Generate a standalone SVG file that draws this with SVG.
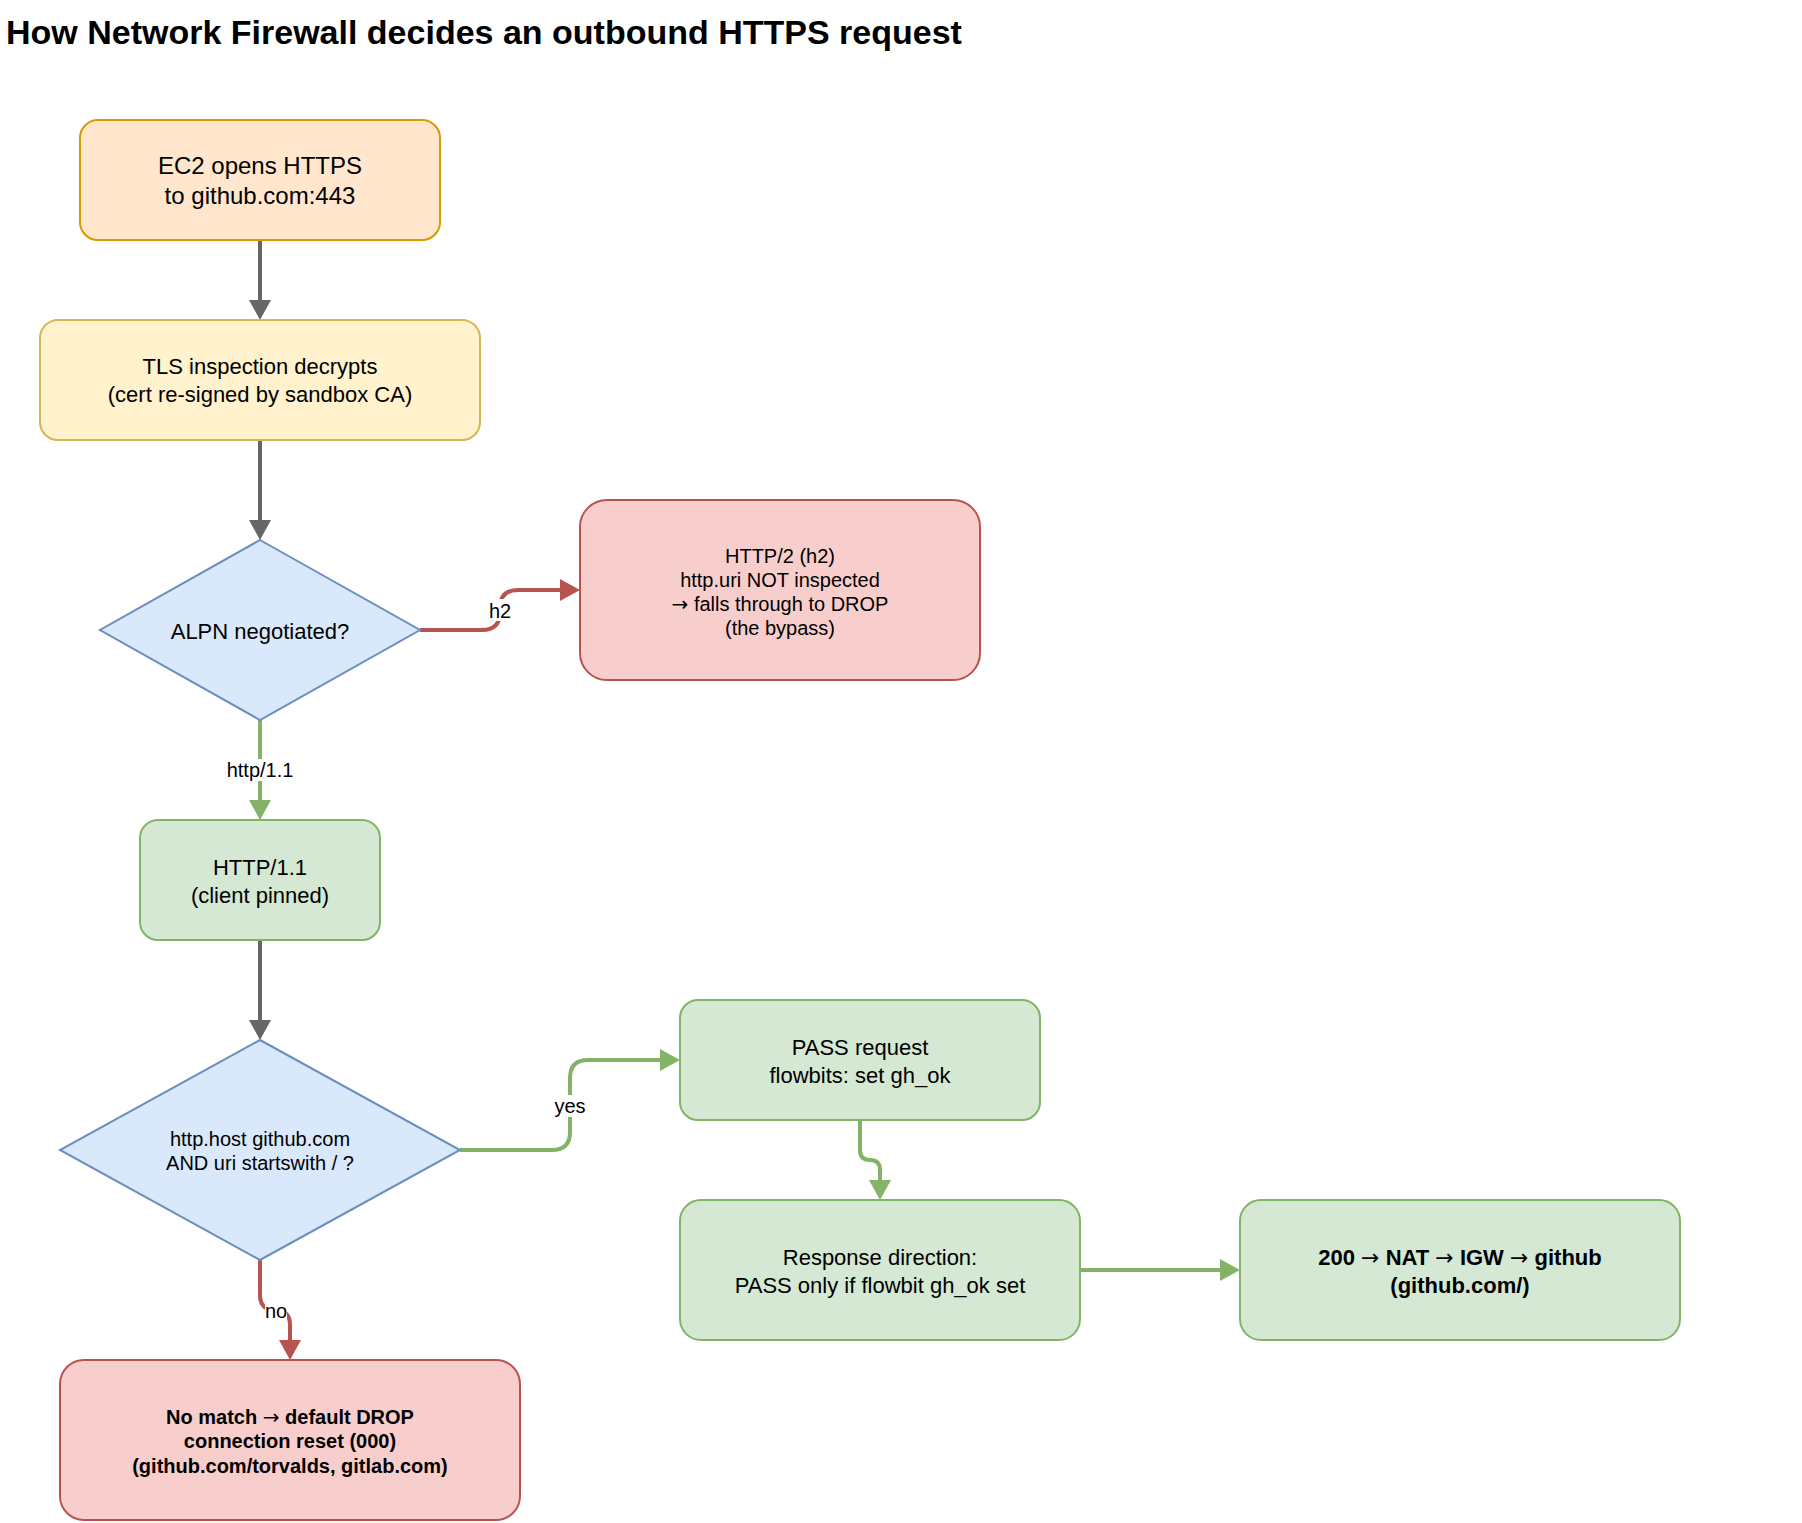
<svg xmlns="http://www.w3.org/2000/svg" width="1802" height="1523" viewBox="0 0 1802 1523">
<defs>
<style>
text{font-family:"Liberation Sans",Arial,Helvetica,sans-serif;fill:#000;text-anchor:middle;dominant-baseline:central}
.title{font-size:34px;font-weight:bold;text-anchor:start;dominant-baseline:alphabetic}
.t24{font-size:24px}.t22{font-size:22px}.t20{font-size:20px}.b{font-weight:bold}
.arr{font-family:"DejaVu Sans",sans-serif;font-weight:normal}
.orange{fill:#ffe6cc;stroke:#d79b00;stroke-width:2}
.yellow{fill:#fff2cc;stroke:#d6b656;stroke-width:2}
.blue{fill:#dae8fc;stroke:#6c8ebf;stroke-width:2}
.red{fill:#f8cecc;stroke:#b85450;stroke-width:2}
.green{fill:#d5e8d4;stroke:#82b366;stroke-width:2}
.e{fill:none;stroke-width:4}
.eg{stroke:#666666}.egr{stroke:#82b366}.er{stroke:#b85450}
.lbg{fill:#ffffff}
</style>
<marker id="ag" viewBox="0 0 20 22" refX="0" refY="11" markerWidth="20" markerHeight="22" markerUnits="userSpaceOnUse" orient="auto"><path d="M0,0 L20,11 L0,22 Z" fill="#666666"/></marker>
<marker id="agr" viewBox="0 0 20 22" refX="0" refY="11" markerWidth="20" markerHeight="22" markerUnits="userSpaceOnUse" orient="auto"><path d="M0,0 L20,11 L0,22 Z" fill="#82b366"/></marker>
<marker id="ar" viewBox="0 0 20 22" refX="0" refY="11" markerWidth="20" markerHeight="22" markerUnits="userSpaceOnUse" orient="auto"><path d="M0,0 L20,11 L0,22 Z" fill="#b85450"/></marker>
</defs>
<rect width="1802" height="1523" fill="#ffffff"/>
<text class="title" x="6" y="44">How Network Firewall decides an outbound HTTPS request</text>

<g id="connectors">
<path class="e eg" d="M260,240 V300" marker-end="url(#ag)"/>
<path class="e eg" d="M260,440 V520" marker-end="url(#ag)"/>
<path class="e er" d="M420,630 H482 Q500,630 500,612 V608 Q500,590 518,590 H560" marker-end="url(#ar)"/>
<rect class="lbg" x="488" y="599" width="24" height="22"/>
<text class="t20" x="500" y="611">h2</text>
<path class="e egr" d="M260,720 V800" marker-end="url(#agr)"/>
<rect class="lbg" x="226" y="759" width="68" height="22"/>
<text class="t20" x="260" y="770">http/1.1</text>
<path class="e eg" d="M260,940 V1020" marker-end="url(#ag)"/>
<path class="e egr" d="M460,1150 H552 Q570,1150 570,1132 V1078 Q570,1060 588,1060 H660" marker-end="url(#agr)"/>
<rect class="lbg" x="554" y="1095" width="32" height="22"/>
<text class="t20" x="570" y="1106">yes</text>
<path class="e egr" d="M860,1120 V1150 Q860,1160 870,1160 Q880,1160 880,1170 V1180" marker-end="url(#agr)"/>
<path class="e er" d="M260,1260 V1295 Q260,1310 275,1310 Q290,1310 290,1325 V1340" marker-end="url(#ar)"/>
<rect class="lbg" x="265" y="1301" width="22" height="20"/>
<text class="t20" x="276" y="1311">no</text>
<path class="e egr" d="M1080,1270 H1220" marker-end="url(#agr)"/>
</g>

<g id="ec2">
<rect class="orange" x="80" y="120" width="360" height="120" rx="18"/>
<text class="t24" x="260" y="165">EC2 opens HTTPS</text>
<text class="t24" x="260" y="195">to github.com:443</text>
</g>
<g id="tls">
<rect class="yellow" x="40" y="320" width="440" height="120" rx="18"/>
<text class="t22" x="260" y="366">TLS inspection decrypts</text>
<text class="t22" x="260" y="394">(cert re-signed by sandbox CA)</text>
</g>
<g id="alpn">
<path class="blue" d="M260,540 L420,630 L260,720 L100,630 Z"/>
<text class="t22" x="260" y="631">ALPN negotiated?</text>
</g>
<g id="h2box">
<rect class="red" x="580" y="500" width="400" height="180" rx="27"/>
<text class="t20" x="780" y="556">HTTP/2 (h2)</text>
<text class="t20" x="780" y="580">http.uri NOT inspected</text>
<text class="t20" x="780" y="604"><tspan class="arr">→</tspan> falls through to DROP</text>
<text class="t20" x="780" y="628">(the bypass)</text>
</g>
<g id="http11">
<rect class="green" x="140" y="820" width="240" height="120" rx="18"/>
<text class="t22" x="260" y="867">HTTP/1.1</text>
<text class="t22" x="260" y="895">(client pinned)</text>
</g>
<g id="match">
<path class="blue" d="M260,1040 L460,1150 L260,1260 L60,1150 Z"/>
<text class="t20" x="260" y="1139">http.host github.com</text>
<text class="t20" x="260" y="1163">AND uri startswith / ?</text>
</g>
<g id="pass">
<rect class="green" x="680" y="1000" width="360" height="120" rx="18"/>
<text class="t22" x="860" y="1047">PASS request</text>
<text class="t22" x="860" y="1075">flowbits: set gh_ok</text>
</g>
<g id="response">
<rect class="green" x="680" y="1200" width="400" height="140" rx="21"/>
<text class="t22" x="880" y="1257">Response direction:</text>
<text class="t22" x="880" y="1285">PASS only if flowbit gh_ok set</text>
</g>
<g id="ok">
<rect class="green" x="1240" y="1200" width="440" height="140" rx="21"/>
<text class="t22 b" x="1460" y="1257">200 <tspan class="arr">→</tspan> NAT <tspan class="arr">→</tspan> IGW <tspan class="arr">→</tspan> github</text>
<text class="t22 b" x="1460" y="1285">(github.com/)</text>
</g>
<g id="drop">
<rect class="red" x="60" y="1360" width="460" height="160" rx="24"/>
<text class="t20 b" x="290" y="1417">No match <tspan class="arr">→</tspan> default DROP</text>
<text class="t20 b" x="290" y="1441">connection reset (000)</text>
<text class="t20 b" x="290" y="1466">(github.com/torvalds, gitlab.com)</text>
</g>
</svg>
